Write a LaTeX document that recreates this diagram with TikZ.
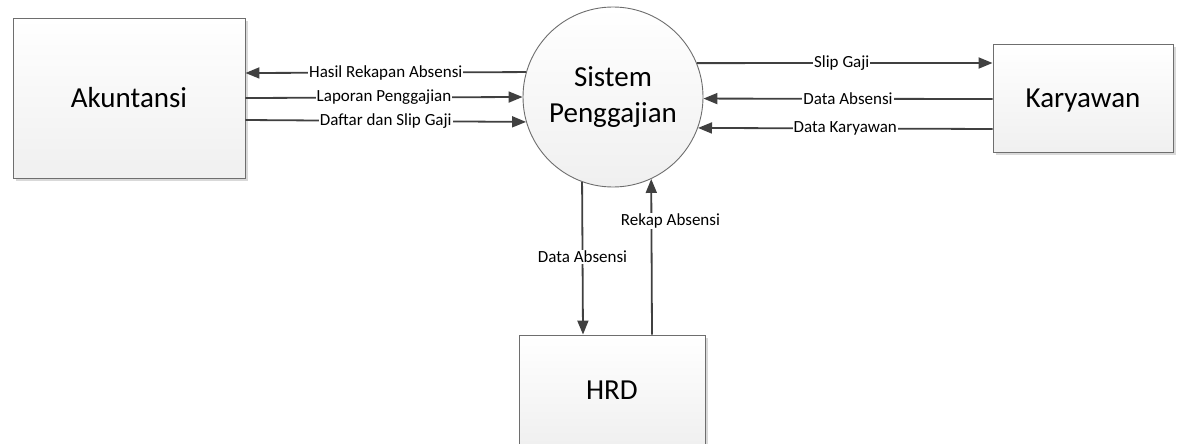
\documentclass[tikz,border=0pt]{standalone}
\usepackage{fontspec}
\setmainfont{Carlito}
\usetikzlibrary{arrows.meta}
\definecolor{edgegray}{HTML}{6E6E6E}
\definecolor{arrowgray}{HTML}{404040}
\definecolor{shadowgray}{HTML}{D9D9D9}
\tikzset{
  entity/.style={draw=edgegray, line width=0.9pt, top color=white, bottom color=black!6,
    font=\fontsize{29}{32}\selectfont, inner sep=0pt, text height=18.7pt, text depth=0pt},
  process/.style={circle, draw=edgegray, line width=0.9pt, top color=white, bottom color=black!6,
    font=\fontsize{29}{36}\selectfont, inner sep=0pt, minimum size=180pt, align=center},
  flow/.style={draw=arrowgray, line width=1.8pt, -{Triangle[length=14pt,width=11pt]}},
  flowlabel/.style={fill=white, inner sep=1pt, font=\fontsize{17}{19}\selectfont, text=black}
}
\begin{document}
\begin{tikzpicture}[x=1pt,y=-1pt]
\useasboundingbox (0,0) rectangle (1181,444);
\clip (0,0) rectangle (1181,444);
% shadows
\fill[shadowgray] (16,21) rectangle (248,181);
\fill[shadowgray] (996,47) rectangle (1176,155);
\fill[shadowgray] (522,338) rectangle (708,450);
% nodes
\node[entity, minimum width=232pt, minimum height=160pt] (akun) at (129,98) {Akuntansi};
\node[entity, minimum width=180pt, minimum height=108pt] (kary) at (1083,98) {Karyawan};
\node[entity, minimum width=186pt, minimum height=111pt] (hrd) at (612,390.5) {HRD};
\node[process] (sys) at (613,97) {Sistem\\Penggajian};
% flows left
\draw[flow] (sys.164.5) -- node[flowlabel, pos=0.5] {Hasil Rekapan Absensi} ([yshift=25pt]akun.east);
\draw[flow] (akun.east) -- node[flowlabel, pos=0.5] {Laporan Penggajian} (sys.180.6);
\draw[flow] ([yshift=-22pt]akun.east) -- node[flowlabel, pos=0.5] {Daftar dan Slip Gaji} (sys.196.8);
% flows right
\draw[flow] (sys.22.2) -- node[flowlabel, pos=0.49] {Slip Gaji} ([yshift=35pt]kary.west);
\draw[flow] ([yshift=-1pt]kary.west) -- node[flowlabel, pos=0.5] {Data Absensi} (sys.-1.3);
\draw[flow] ([yshift=-31pt]kary.west) -- node[flowlabel, pos=0.5] {Data Karyawan} (sys.-20.8);
% flows bottom
\draw[flow] (sys.250.5) -- node[flowlabel, pos=0.49] {Data Absensi} ([xshift=-29pt]hrd.north);
\draw[flow] ([xshift=40pt]hrd.north) -- node[flowlabel, pos=0.73, xshift=19pt] {Rekap Absensi} (sys.295.7);
\end{tikzpicture}
\end{document}
